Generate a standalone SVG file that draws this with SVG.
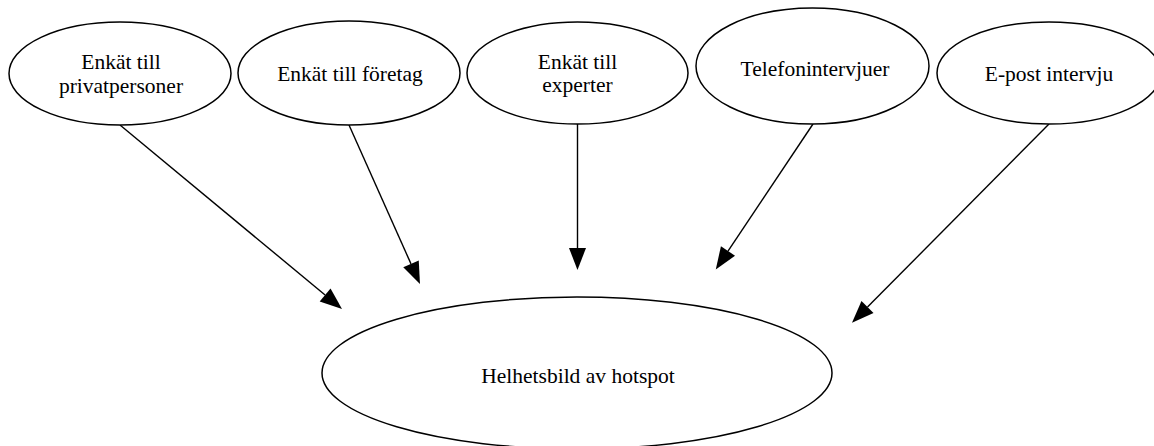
<svg xmlns="http://www.w3.org/2000/svg" width="1154" height="446" viewBox="0 0 1154 446">
<style>
.node ellipse{fill:#ffffff;stroke:#000000;stroke-width:1.5}
text{font-family:"Liberation Serif","Times New Roman",serif;font-size:21.5px;fill:#000000;text-anchor:middle}
.edges line{stroke:#000000;stroke-width:1.4}
</style>
<defs>
<marker id="arrow" markerUnits="userSpaceOnUse" markerWidth="22" markerHeight="17" refX="0" refY="8.5" orient="auto" overflow="visible">
<path d="M0,0 L22,8.5 L0,17 z" fill="#000000"/>
</marker>
</defs>
<rect width="1154" height="446" fill="#ffffff"/>
<g class="edges">
<line x1="120" y1="125" x2="325.1" y2="295" marker-end="url(#arrow)"/>
<line x1="349" y1="125" x2="411" y2="263.9" marker-end="url(#arrow)"/>
<line x1="577.5" y1="124" x2="577.5" y2="248" marker-end="url(#arrow)"/>
<line x1="813" y1="124" x2="728" y2="251.1" marker-end="url(#arrow)"/>
<line x1="1049" y1="124" x2="867.5" y2="307.1" marker-end="url(#arrow)"/>
</g>
<g id="privat" class="node">
<ellipse cx="120" cy="73.5" rx="111" ry="51.5"/>
<text x="121" y="69">Enkät till</text>
<text x="121" y="93">privatpersoner</text>
</g>
<g id="foretag" class="node">
<ellipse cx="349" cy="73" rx="111" ry="52"/>
<text x="350" y="81">Enkät till företag</text>
</g>
<g id="experter" class="node">
<ellipse cx="577.5" cy="73" rx="110.5" ry="51"/>
<text x="577.5" y="69">Enkät till</text>
<text x="577.5" y="92">experter</text>
</g>
<g id="telefon" class="node">
<ellipse cx="812.5" cy="66" rx="116.5" ry="58"/>
<text x="815" y="75.5">Telefonintervjuer</text>
</g>
<g id="epost" class="node">
<ellipse cx="1049" cy="73" rx="112" ry="51"/>
<text x="1049" y="80.5">E-post intervju</text>
</g>
<g id="helhet" class="node">
<ellipse cx="577" cy="373" rx="255" ry="76"/>
<text x="578" y="383">Helhetsbild av hotspot</text>
</g>
</svg>
